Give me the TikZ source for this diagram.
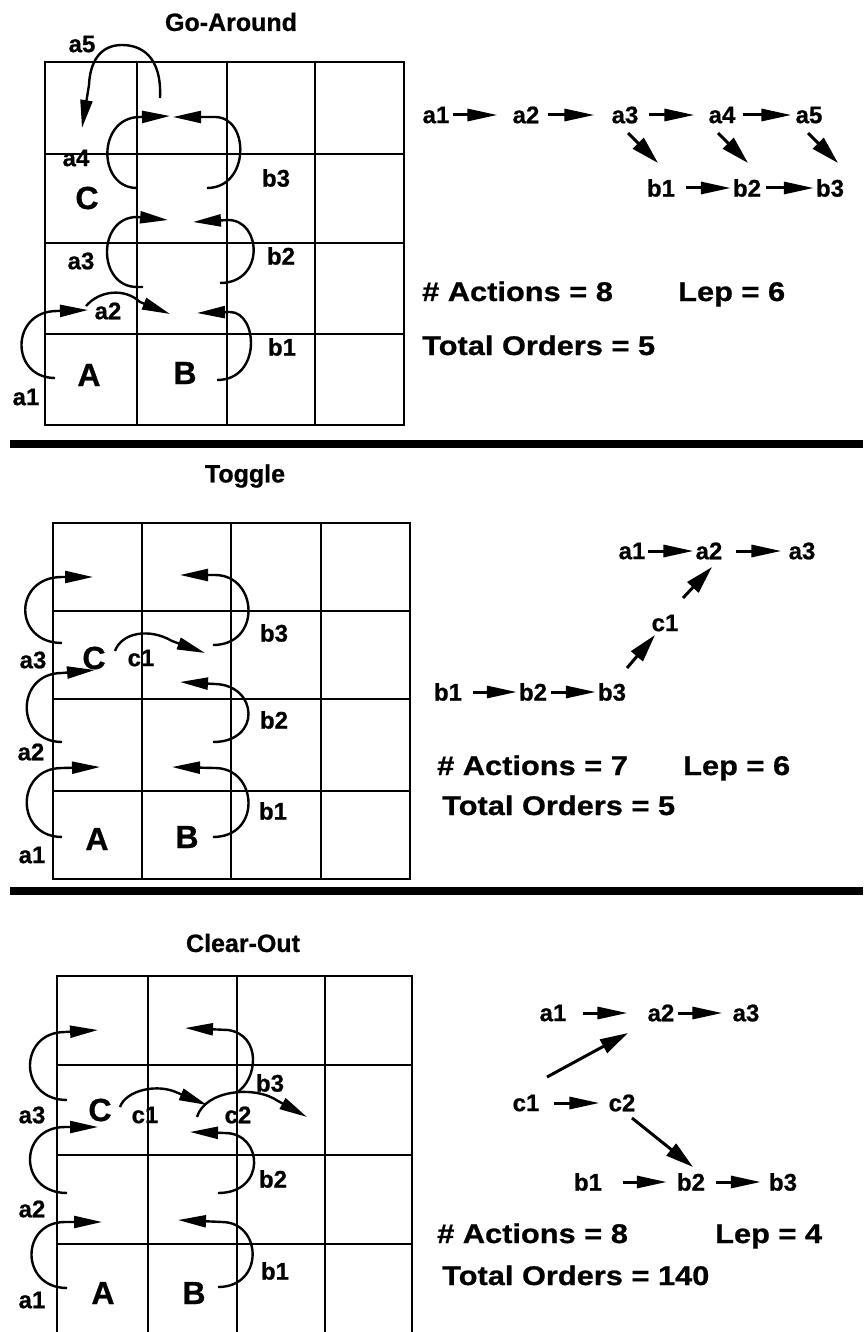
\documentclass[tikz,border=0pt]{standalone}
\usepackage{fontspec}
\setmainfont[FakeBold=0.8]{Liberation Sans}
\newfontfamily\statfont[FakeStretch=1.14,FakeBold=0.8]{Liberation Sans}
\usetikzlibrary{arrows.meta}
\begin{document}
\begin{tikzpicture}[x=1pt,y=-1pt,
  lbl/.style={font=\bfseries\fontsize{24}{24}\selectfont,inner sep=2pt},
  big/.style={font=\bfseries\fontsize{32}{32}\selectfont,inner sep=0pt},
  ttl/.style={font=\bfseries\fontsize{25}{25}\selectfont,inner sep=0pt},
  stat/.style={font=\statfont\bfseries\fontsize{27}{27}\selectfont,anchor=base west,inner sep=0pt},
  gridline/.style={line width=2.2pt},
  sepline/.style={line width=8pt},
  mv/.style={line width=2.4pt,-{Triangle[length=28pt,width=12pt]}},
  ord/.style={line width=3pt,-{Triangle[length=30pt,width=12pt]}},
  ordd/.style={line width=3pt,-{Triangle[length=28pt,width=15pt]}}]
\useasboundingbox (0,0) rectangle (863,1332);

% separators
\draw[sepline] (10,444) -- (863,444);
\draw[sepline] (10,891) -- (863,891);

% ================= Go-Around =================
\node[ttl] (t1) at (231,22) {Go-Around};
\foreach \x in {45,137,227,315,404} \draw[gridline] (\x,62) -- (\x,425);
\foreach \y in {62,154,243,334,425} \draw[gridline] (44,\y) -- (405,\y);
\node[big] (g1A) at (89,375) {A};
\node[big] (g1B) at (185,373) {B};
\node[big] (g1C) at (87,198) {C};
\node[lbl] (m1a1) at (26,397) {a1};
\node[lbl] (m1a2) at (108,311) {a2};
\node[lbl] (m1a3) at (81,261) {a3};
\node[lbl] (m1a4) at (76,158) {a4};
\node[lbl] (m1a5) at (82,44) {a5};
\node[lbl] (m1b1) at (282,347) {b1};
\node[lbl] (m1b2) at (281,256) {b2};
\node[lbl] (m1b3) at (276,178) {b3};
\draw[mv] (55,378) .. controls (10,378) and (10,311) .. (57,311) -- (88,310);
\draw[mv] (86,306) .. controls (100,290) and (125,288) .. (140,302) -- (170,314);
\draw[mv] (143,287) -- (137,287) .. controls (97,287) and (97,217) .. (137,217) -- (168,220);
\draw[mv] (137,188) .. controls (97,188) and (97,117) .. (140,117) -- (170,116);
\draw[mv] (160,98) .. controls (162,55) and (140,45) .. (122,45) .. controls (100,45) and (90,62) .. (89,85) -- (82,128);
\draw[mv] (217,380) .. controls (262,380) and (258,312) .. (230,312) -- (197,313);
\draw[mv] (220,283) .. controls (265,283) and (262,220) .. (228,220) -- (193,222);
\draw[mv] (207,188) .. controls (250,188) and (250,117) .. (215,117) -- (173,117);

% order graph 1
\node[lbl] (g1a1) at (436,115) {a1};
\node[lbl] (g1a2) at (526,115) {a2};
\node[lbl] (g1a3) at (625,115) {a3};
\node[lbl] (g1a4) at (722,115) {a4};
\node[lbl] (g1a5) at (809,115) {a5};
\node[lbl] (g1b1) at (661,188) {b1};
\node[lbl] (g1b2) at (747,188) {b2};
\node[lbl] (g1b3) at (830,188) {b3};
\draw[ord,shorten <=1pt,shorten >=13pt] (g1a1) -- (g1a2);
\draw[ord,shorten <=6pt,shorten >=15pt] (g1a2) -- (g1a3);
\draw[ord,shorten <=8pt,shorten >=12pt] (g1a3) -- (g1a4);
\draw[ord,shorten <=5pt,shorten >=2pt] (g1a4) -- (g1a5);
\draw[ord,shorten <=9pt] (g1b1) -- (g1b2);
\draw[ord,shorten <=3pt] (g1b2) -- (g1b3);
\draw[ordd] ([shift={(3,18)}]g1a3.center) -- ([shift={(-3,-25)}]g1b1.center);
\draw[ordd] ([shift={(-4,18)}]g1a4.center) -- ([shift={(1,-25)}]g1b2.center);
\draw[ordd] ([shift={(-1,18)}]g1a5.center) -- ([shift={(8,-25)}]g1b3.center);
\node[stat] (s1a) at (422,301) {\# Actions = 8};
\node[stat] (s1b) at (678,301) {Lep = 6};
\node[stat] (s1c) at (422,355) {Total Orders = 5};

% ================= Toggle =================
\node[ttl] (t2) at (245,476) {Toggle};
\foreach \x in {53,142,231,321,410} \draw[gridline] (\x,523) -- (\x,879);
\foreach \y in {523,611,699,791,879} \draw[gridline] (52,\y) -- (411,\y);
\node[big] (g2A) at (97,839) {A};
\node[big] (g2B) at (187,837) {B};
\node[big] (g2C) at (94,658) {C};
\node[lbl] (m2a1) at (32,855) {a1};
\node[lbl] (m2a2) at (31,752) {a2};
\node[lbl] (m2a3) at (33,660) {a3};
\node[lbl] (m2c1) at (141,658) {c1};
\node[lbl] (m2b1) at (273,811) {b1};
\node[lbl] (m2b2) at (274,720) {b2};
\node[lbl] (m2b3) at (274,633) {b3};
\draw[mv] (62,837) .. controls (15,837) and (15,768) .. (62,768) -- (100,767);
\draw[mv] (62,742) .. controls (15,742) and (15,673) .. (62,673) -- (95,670);
\draw[mv] (62,643) .. controls (13,643) and (13,577) .. (62,577) -- (93,577);
\draw[mv] (115,651) .. controls (122,632) and (150,628) .. (172,641) -- (205,653);
\draw[mv] (213,837) .. controls (262,837) and (258,768) .. (215,768) -- (172,767);
\draw[mv] (213,742) .. controls (262,742) and (258,685) .. (215,684) -- (180,682);
\draw[mv] (213,645) .. controls (262,645) and (258,575) .. (215,575) -- (180,575);

% order graph 2
\node[lbl] (g2a1) at (632,551) {a1};
\node[lbl] (g2a2) at (709,551) {a2};
\node[lbl] (g2a3) at (802,551) {a3};
\node[lbl] (g2c1) at (665,623) {c1};
\node[lbl] (g2b1) at (448,692) {b1};
\node[lbl] (g2b2) at (533,692) {b2};
\node[lbl] (g2b3) at (612,692) {b3};
\draw[ord] (g2a1) -- (g2a2);
\draw[ord,shorten <=11pt,shorten >=5pt] (g2a2) -- (g2a3);
\draw[ord,shorten <=9pt] (g2b1) -- (g2b2);
\draw[ord,shorten <=2pt] (g2b2) -- (g2b3);
\draw[ordd] ([shift={(15,-24)}]g2b3.center) -- ([shift={(-10,12)}]g2c1.center);
\draw[ordd] ([shift={(18,-25)}]g2c1.center) -- ([shift={(3,16)}]g2a2.center);
\node[stat] (s2a) at (437,775) {\# Actions = 7};
\node[stat] (s2b) at (683,775) {Lep = 6};
\node[stat] (s2c) at (442,815) {Total Orders = 5};

% ================= Clear-Out =================
\node[ttl] (t3) at (243,943) {Clear-Out};
\foreach \x in {57,148,237,325,412} \draw[gridline] (\x,976) -- (\x,1332);
\foreach \y in {976,1065,1155,1244} \draw[gridline] (56,\y) -- (413,\y);
\node[big] (g3A) at (103,1293) {A};
\node[big] (g3B) at (194,1293) {B};
\node[big] (g3C) at (100,1110) {C};
\node[lbl] (m3a1) at (32,1300) {a1};
\node[lbl] (m3a2) at (32,1209) {a2};
\node[lbl] (m3a3) at (32,1115) {a3};
\node[lbl] (m3c1) at (145,1115) {c1};
\node[lbl] (m3c2) at (238,1115) {c2};
\node[lbl] (m3b1) at (275,1271) {b1};
\node[lbl] (m3b2) at (273,1179) {b2};
\node[lbl] (m3b3) at (270,1083) {b3};
\draw[mv] (67,1288) .. controls (20,1288) and (20,1222) .. (65,1222) -- (102,1222);
\draw[mv] (67,1193) .. controls (18,1193) and (18,1127) .. (65,1127) -- (98,1127);
\draw[mv] (67,1100) .. controls (18,1100) and (18,1032) .. (65,1032) -- (98,1030);
\draw[mv] (120,1107) .. controls (126,1090) and (158,1083) .. (178,1093) -- (207,1105);
\draw[mv] (197,1117) .. controls (205,1090) and (255,1085) .. (278,1101) -- (307,1117);
\draw[mv] (218,1287) .. controls (265,1287) and (262,1222) .. (222,1222) -- (178,1220);
\draw[mv] (218,1193) .. controls (267,1193) and (263,1133) .. (225,1133) -- (190,1132);
\draw[mv] (236,1093) .. controls (258,1080) and (262,1035) .. (228,1030) -- (185,1028);

% order graph 3
\node[lbl] (g3a1) at (553,1013) {a1};
\node[lbl] (g3a2) at (661,1013) {a2};
\node[lbl] (g3a3) at (746,1013) {a3};
\node[lbl] (g3c1) at (526,1103) {c1};
\node[lbl] (g3c2) at (622,1103) {c2};
\node[lbl] (g3b1) at (588,1182) {b1};
\node[lbl] (g3b2) at (691,1182) {b2};
\node[lbl] (g3b3) at (783,1182) {b3};
\draw[ord,shorten <=14pt,shorten >=18pt] (g3a1) -- (g3a2);
\draw[ord,shorten <=1pt,shorten >=8pt] (g3a2) -- (g3a3);
\draw[ord,shorten <=12pt,shorten >=7pt] (g3c1) -- (g3c2);
\draw[ord,shorten <=19pt,shorten >=8pt] (g3b1) -- (g3b2);
\draw[ord,shorten <=9pt,shorten >=6pt] (g3b2) -- (g3b3);
\draw[ordd] ([shift={(21,-26)}]g3c1.center) -- ([shift={(-33,20)}]g3a2.center);
\draw[ordd] ([shift={(10,15)}]g3c2.center) -- ([shift={(2,-15)}]g3b2.center);
\node[stat] (s3a) at (437,1243) {\# Actions = 8};
\node[stat] (s3b) at (715,1243) {Lep = 4};
\node[stat] (s3c) at (442,1285) {Total Orders = 140};
\end{tikzpicture}
\end{document}
